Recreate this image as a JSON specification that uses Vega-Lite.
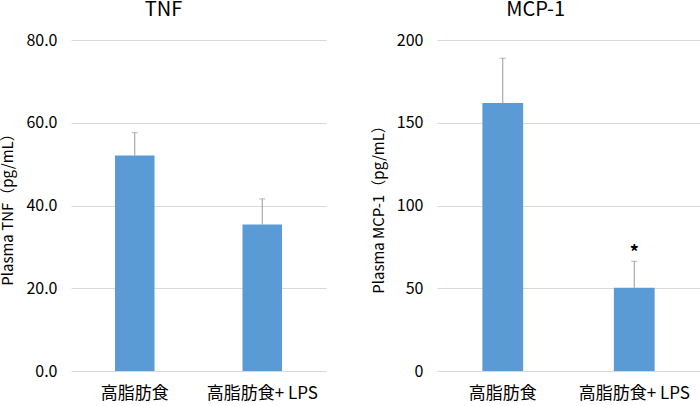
{
  "$schema": "https://vega.github.io/schema/vega-lite/v6.json",
  "padding": 0,
  "background": "white",
  "spacing": 45,
  "config": {
    "view": {"stroke": null},
    "font": "Noto Sans CJK JP",
    "title": {"font": "Noto Sans CJK JP", "fontSize": 20, "fontWeight": "normal", "color": "#000000", "anchor": "middle", "frame": "bounds", "offset": 12},
    "axis": {"labelFont": "Noto Sans CJK JP", "titleFont": "Noto Sans CJK JP", "labelFontSize": 16, "titleFontSize": 15, "titleFontWeight": "normal", "labelColor": "#000000", "titleColor": "#000000", "domain": false, "ticks": false, "gridColor": "#d9d9d9", "gridWidth": 1}
  },
  "datasets": {
    "d": [
      {"panel": "TNF", "group": "高脂肪食", "value": 52.1, "upper": 57.6, "sig": ""},
      {"panel": "TNF", "group": "高脂肪食+ LPS", "value": 35.4, "upper": 41.6, "sig": ""},
      {"panel": "MCP-1", "group": "高脂肪食", "value": 161.9, "upper": 189.0, "sig": ""},
      {"panel": "MCP-1", "group": "高脂肪食+ LPS", "value": 50.3, "upper": 66.3, "sig": "*"}
    ]
  },
  "hconcat": [
    {
      "title": "TNF",
      "width": 255,
      "height": 331,
      "data": {"name": "d"},
      "transform": [{"filter": "datum.panel === 'TNF'"}],
      "encoding": {
        "x": {"field": "group", "type": "nominal", "sort": null, "scale": {"paddingInner": 0.69, "paddingOuter": 0.345}, "axis": {"title": null, "labelAngle": 0, "labelPadding": 14, "labelFontSize": 17}}
      },
      "layer": [
        {"mark": {"type": "bar", "color": "#5b9bd5"}, "encoding": {"y": {"field": "value", "type": "quantitative", "scale": {"domain": [0, 80]}, "axis": {"title": "Plasma TNF（pg/mL）", "values": [0, 20, 40, 60, 80], "format": ".1f", "labelPadding": 14, "titlePadding": 10}}}},
        {"mark": {"type": "rule", "color": "#999999", "strokeWidth": 1}, "encoding": {"y": {"field": "value", "type": "quantitative"}, "y2": {"field": "upper"}}},
        {"mark": {"type": "tick", "color": "#999999", "orient": "horizontal", "size": 6, "thickness": 1}, "encoding": {"y": {"field": "upper", "type": "quantitative"}}}
      ]
    },
    {
      "title": "MCP-1",
      "width": 263,
      "height": 331,
      "data": {"name": "d"},
      "transform": [{"filter": "datum.panel === 'MCP-1'"}],
      "encoding": {
        "x": {"field": "group", "type": "nominal", "sort": null, "scale": {"paddingInner": 0.69, "paddingOuter": 0.345}, "axis": {"title": null, "labelAngle": 0, "labelPadding": 14, "labelFontSize": 17}}
      },
      "layer": [
        {"mark": {"type": "bar", "color": "#5b9bd5"}, "encoding": {"y": {"field": "value", "type": "quantitative", "scale": {"domain": [0, 200]}, "axis": {"title": "Plasma MCP-1（pg/mL）", "values": [0, 50, 100, 150, 200], "labelPadding": 14, "titlePadding": 10}}}},
        {"mark": {"type": "rule", "color": "#999999", "strokeWidth": 1}, "encoding": {"y": {"field": "value", "type": "quantitative"}, "y2": {"field": "upper"}}},
        {"mark": {"type": "tick", "color": "#999999", "orient": "horizontal", "size": 6, "thickness": 1}, "encoding": {"y": {"field": "upper", "type": "quantitative"}}},
        {"mark": {"type": "text", "fontSize": 18, "fontWeight": "bold", "baseline": "alphabetic", "dy": -2, "color": "#000000"}, "encoding": {"y": {"field": "upper", "type": "quantitative"}, "text": {"field": "sig"}}}
      ]
    }
  ]
}
